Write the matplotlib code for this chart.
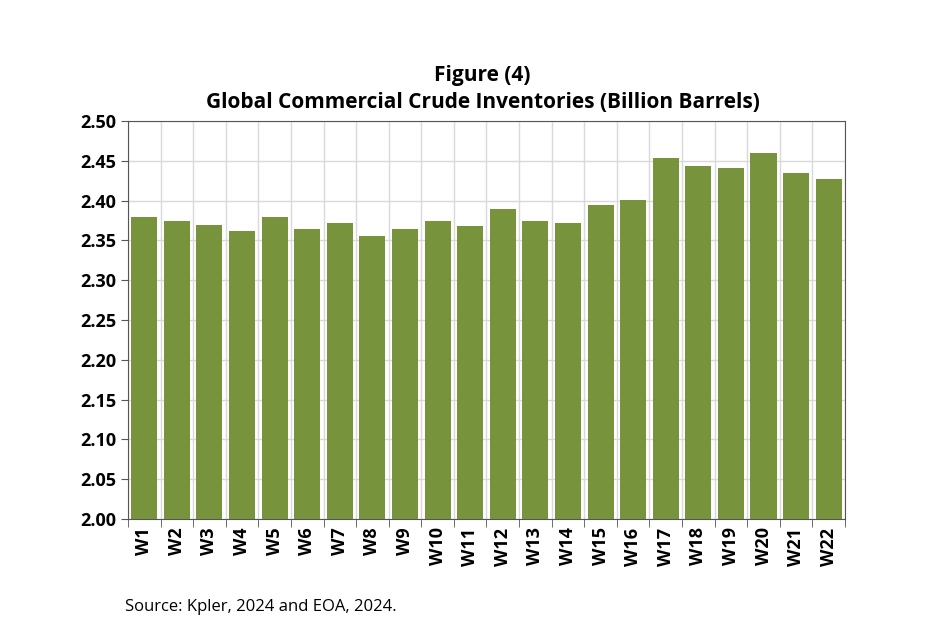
import matplotlib
matplotlib.use("Agg")
import matplotlib.pyplot as plt

plt.rcParams['font.family'] = ['Open Sans', 'DejaVu Sans']

weeks = ["W%d" % i for i in range(1, 23)]
inventories = [2.380, 2.375, 2.369, 2.362, 2.380, 2.365, 2.372, 2.356, 2.365, 2.375, 2.368,
               2.389, 2.375, 2.372, 2.395, 2.401, 2.453, 2.444, 2.441, 2.460, 2.435, 2.427]

fig = plt.figure(figsize=(9.41, 6.44), dpi=100)
ax = fig.add_axes([0.136, 0.194, 0.762, 0.618])

x = range(len(weeks))
ax.bar(x, inventories, width=0.8, color="#77933C", zorder=3)

ax.set_xlim(-0.5, len(weeks) - 0.5)
ax.set_ylim(2.0, 2.5)
ax.set_yticks([2.0 + 0.05 * i for i in range(11)])
ax.set_yticklabels(["%.2f" % (2.0 + 0.05 * i) for i in range(11)], fontsize=13, fontweight="bold")
ax.set_xticks(list(x))
ax.set_xticklabels(weeks, rotation=90, fontsize=13, fontweight="bold")
ax.set_xticks([i + 0.5 for i in range(-1, len(weeks))], minor=True)
ax.tick_params(axis="x", which="major", length=0, pad=6)
ax.tick_params(axis="x", which="minor", length=6, color="#555555")
ax.tick_params(axis="y", length=5, color="#555555")

ax.grid(axis="y", color="#d9d9d9", linewidth=1, zorder=0)
ax.grid(axis="x", which="minor", color="#d9d9d9", linewidth=1, zorder=0)
for s in ax.spines.values():
    s.set_color("#555555")

fig.text(0.513, 0.875, "Figure (4)", ha="center", fontsize=15, fontweight="bold")
fig.text(0.513, 0.832, "Global Commercial Crude Inventories (Billion Barrels)", ha="center",
         fontsize=15, fontweight="bold")
fig.text(0.133, 0.052, "Source: Kpler, 2024 and EOA, 2024.", fontsize=12)

fig.savefig("out.png", dpi=100)
